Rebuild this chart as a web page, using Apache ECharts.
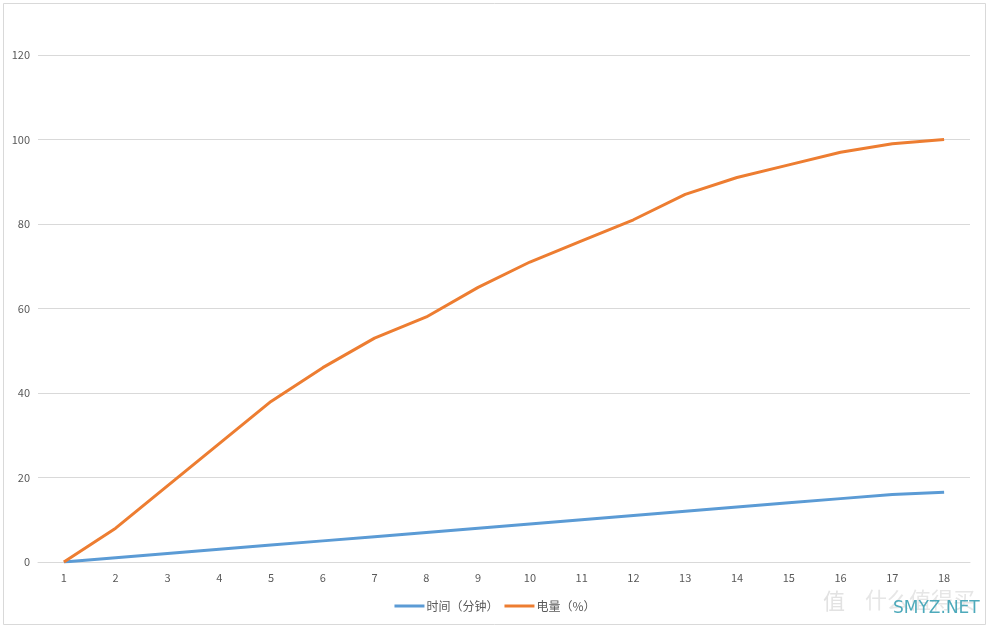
<!DOCTYPE html>
<html><head><meta charset="utf-8">
<script src="https://cdn.jsdelivr.net/npm/echarts@6/dist/echarts.min.js"></script>
<style>html,body{margin:0;padding:0;background:#fff}#c{width:990px;height:631px}</style>
</head><body><div id="c"></div>
<script>
const categories = ['1','2','3','4','5','6','7','8','9','10','11','12','13','14','15','16','17','18'];
const timeMinutes = [0,1,2,3,4,5,6,7,8,9,10,11,12,13,14,15,16,16.5];
const batteryPct = [0,8,18,28,38,46,53,58,65,71,76,81,87,91,94,97,99,100];
const seriesNames = ['时间（分钟）','电量（%）'];
const yTicks = {min:0, max:120, interval:20};

const font = '"Noto Sans CJK SC", "Microsoft YaHei", sans-serif';
const chart = echarts.init(document.getElementById('c'), null, {renderer:'canvas'});
chart.setOption({
  animation:false,
  backgroundColor:'#fff',
  grid:{left:38, right:20, top:55, bottom:69},
  legend:{
    bottom:14, left:'center', itemWidth:30, itemHeight:3, itemGap:6,
    icon:'rect',
    textStyle:{color:'#595959', fontSize:12, fontFamily:font, padding:[0,0,0,-3]},
    data:seriesNames
  },
  xAxis:{
    type:'category', data:categories, boundaryGap:true,
    axisLine:{show:true, lineStyle:{color:'#d9d9d9'}},
    axisTick:{show:false},
    axisLabel:{color:'#595959', fontSize:11, fontFamily:font, margin:10}
  },
  yAxis:{
    type:'value', min:yTicks.min, max:yTicks.max, interval:yTicks.interval,
    axisLine:{show:false}, axisTick:{show:false},
    splitLine:{lineStyle:{color:'#d9d9d9', width:1}},
    axisLabel:{color:'#595959', fontSize:11, fontFamily:font, margin:8}
  },
  series:[
    {name:seriesNames[0], type:'line', data:timeMinutes, symbol:'none',
     lineStyle:{color:'#5B9BD5', width:3}, itemStyle:{color:'#5B9BD5'}},
    {name:seriesNames[1], type:'line', data:batteryPct, symbol:'none',
     lineStyle:{color:'#ED7D31', width:3}, itemStyle:{color:'#ED7D31'}}
  ],
  graphic:[
    {type:'rect', shape:{x:3.5, y:3.5, width:982, height:621},
     style:{fill:'none', stroke:'#d9d9d9', lineWidth:1}, silent:true},
    {type:'text', left:823, top:590, style:{text:'值', fill:'#e2e2e2', font:'22px '+font}, silent:true},
    {type:'text', left:865, top:589, style:{text:'什么值得买', fill:'#e6e6e6', font:'22px '+font}, silent:true},
    {type:'text', left:893, top:600, style:{text:'SMYZ.NET', fill:'#4eaabb', font:'17px "DejaVu Sans", sans-serif'}, silent:true}
  ]
});
</script></body></html>
